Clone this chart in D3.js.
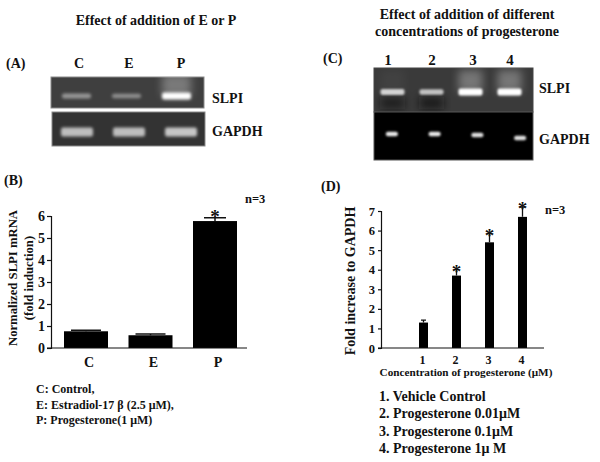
<!DOCTYPE html>
<html>
<head>
<meta charset="utf-8">
<script src="https://cdn.jsdelivr.net/npm/d3@7"></script>
<style>
  html, body { margin: 0; padding: 0; background: #fff; }
  svg { display: block; }
  text { font-family: "Liberation Serif", serif; font-weight: bold; fill: #111; }
  .axis path, .axis line { stroke: #111; stroke-width: 1.2; }
  .axis text { font-family: "Liberation Serif", serif; font-weight: bold; fill: #111; }
</style>
</head>
<body>
<div id="main"></div>
<script>
const barCategories = ["C", "E", "P"];
const barValues = [0.76, 0.58, 5.77];
const barErrors = [0.05, 0.06, 0.15];
const barStars = [false, false, true];

const doseCategories = [1, 2, 3, 4];
const doseValues = [1.3, 3.7, 5.4, 6.7];
const doseErrors = [0.12, 0.3, 0.45, 0.5];
const doseStars = [false, true, true, true];

const gelALanes = ["C", "E", "P"];
const gelASlpi = [0.48, 0.44, 1];
const gelAGapdh = [0.68, 0.68, 0.72];

const gelCLanes = ["1", "2", "3", "4"];
const gelCSlpi = [0.78, 0.7, 1, 1];
const gelCSmudge = [0.6, 0.7, 0, 0];
const gelCGapdh = [0.9, 0.9, 0.85, 0.85];
const gelCGapdhDrift = [0, 0, 1, 4];

const legendB = ["C: Control,", "E: Estradiol-17 β (2.5 μM),", "P: Progesterone(1 μM)"];
const legendD = ["1. Vehicle Control", "2. Progesterone 0.01μM", "3. Progesterone 0.1μM", "4. Progesterone 1μ M"];

const svg = d3.select("#main").append("svg").attr("width", 600).attr("height", 462);

const defs = svg.append("defs");
[["blurBand", 1.5], ["blurSoft", 0.8], ["blurGlow", 4]].forEach(([id, sd]) => {
  defs.append("filter").attr("id", id)
    .attr("x", "-30%").attr("y", "-100%").attr("width", "160%").attr("height", "300%")
    .append("feGaussianBlur").attr("stdDeviation", sd);
});

function label(x, y, txt, size, anchor = "start") {
  return svg.append("text").attr("x", x).attr("y", y)
    .attr("font-size", size).attr("text-anchor", anchor).text(txt);
}

// one gel strip, bands placed by the lane scale
function gel(x, y, w, h, lanes, values, opt) {
  const g = svg.append("g");
  const clipId = "clip" + x + "_" + y;
  defs.append("clipPath").attr("id", clipId).append("rect")
    .attr("x", x).attr("y", y).attr("width", w).attr("height", h);
  g.append("rect").attr("x", x).attr("y", y).attr("width", w).attr("height", h)
    .attr("fill", opt.bg).attr("stroke", opt.edge || "#8a8a8a").attr("stroke-width", 1);
  const inner = g.append("g").attr("clip-path", `url(#${clipId})`);
  const laneX = d3.scaleBand().domain(lanes).range(opt.range);
  const light = d3.scaleLinear().domain([0, 1]).range(["#333", "#fff"]);

  lanes.forEach((lane, i) => {
    const cx = laneX(lane) + laneX.bandwidth() / 2;
    const by = y + opt.bandY + (opt.drift ? opt.drift[i] : 0);
    const bandH = opt.bandH * (opt.thicken ? 0.4 + 0.6 * values[i] : 1);
    if (opt.glow) {
      inner.append("rect")
        .attr("x", cx - opt.bandW / 2).attr("y", by - 22)
        .attr("width", opt.bandW).attr("height", 22)
        .attr("fill", "#fff").attr("opacity", Math.max(0, values[i] - 0.75) * 1.2)
        .attr("filter", "url(#blurGlow)");
    }
    if (opt.smudge && opt.smudge[i]) {
      inner.append("rect")
        .attr("x", cx - opt.bandW / 2).attr("y", by + 5)
        .attr("width", opt.bandW).attr("height", 12)
        .attr("fill", "#111").attr("opacity", opt.smudge[i])
        .attr("filter", "url(#blurGlow)");
    }
    inner.append("rect")
      .attr("x", cx - opt.bandW / 2).attr("y", by - bandH / 2)
      .attr("width", opt.bandW).attr("height", bandH)
      .attr("rx", 2)
      .attr("fill", light(values[i]))
      .attr("filter", `url(#${opt.blur || "blurBand"})`);
  });
}

// titles and panel letters
label(156, 25, "Effect of addition of E or P", 14, "middle");
label(6, 68, "(A)", 14);
label(4, 185, "(B)", 14);
label(467, 19, "Effect of addition of different", 14, "middle");
label(467, 36, "concentrations of progesterone", 14, "middle");
label(323, 63, "(C)", 14);
label(321, 191, "(D)", 14);

// panel A gels
gelALanes.forEach((d, i) => label([79, 129, 181][i], 68, d, 14, "middle"));
gel(51, 77, 153, 31, gelALanes, gelASlpi, { bg: "#3f3f3f", range: [51.5, 201.5], bandY: 19, bandW: 29, bandH: 7, thicken: true, glow: true });
gel(52, 112, 153, 34, gelALanes, gelAGapdh, { bg: "#333", range: [51, 207], bandY: 20, bandW: 32, bandH: 9 });
label(212, 103, "SLPI", 14);
label(212, 136, "GAPDH", 14);

// panel C gels
gelCLanes.forEach((d, i) => label([388, 432, 473, 510][i], 65, d, 15, "middle"));
gel(374, 68, 159, 44, gelCLanes, gelCSlpi, { bg: "#3a3a3a", edge: "#444", range: [373, 529], bandY: 24, bandW: 24, bandH: 7, thicken: true, glow: true, smudge: gelCSmudge, blur: "blurSoft" });
gel(374, 112, 159, 48, gelCLanes, gelCGapdh, { bg: "#000", edge: "#555", range: [370.5, 541.5], bandY: 22, bandW: 12, bandH: 4.5, drift: gelCGapdhDrift, blur: "blurSoft" });
label(539, 93, "SLPI", 14);
label(539, 144, "GAPDH", 14);

function stars(g, x, y, cats, vals, errs, flags, size, dy) {
  cats.forEach((c, i) => {
    if (!flags[i]) return;
    g.append("text").attr("x", x(c)).attr("y", y(vals[i] + errs[i]) + dy)
      .attr("text-anchor", "middle").attr("font-size", size).text("*");
  });
}

// panel B bars
const xB = d3.scalePoint().domain(barCategories).range([86, 215]);
const yB = d3.scaleLinear().domain([0, 6]).range([348, 216]);
const gB = svg.append("g");
const barWB = 44;
gB.selectAll(".err").data(barCategories).enter().append("path")
  .attr("d", (d, i) => {
    const top = yB(barValues[i] + barErrors[i]);
    const capW = i === 2 ? 11 : 15;
    return `M${xB(d)},${yB(barValues[i])}V${top}M${xB(d) - capW},${top}H${xB(d) + capW}`;
  })
  .attr("stroke", "#111").attr("stroke-width", 1.5).attr("fill", "none");
gB.selectAll(".bar").data(barCategories).enter().append("rect")
  .attr("x", d => xB(d) - barWB / 2)
  .attr("width", barWB)
  .attr("y", (d, i) => yB(barValues[i]))
  .attr("height", (d, i) => yB(0) - yB(barValues[i]))
  .attr("fill", "#000");
stars(gB, xB, yB, barCategories, barValues, barErrors, barStars, 19, 5);

gB.append("g").attr("class", "axis").attr("transform", "translate(51,0)")
  .call(d3.axisLeft(yB).ticks(6).tickSize(4).tickFormat(d3.format("d")))
  .call(s => s.selectAll("text").attr("font-size", 14).attr("dx", 1));
gB.append("line").attr("x1", 47).attr("x2", 247).attr("y1", 348).attr("y2", 348)
  .attr("stroke", "#111").attr("stroke-width", 1.2);
barCategories.forEach(c => gB.append("text").attr("x", xB(c) + 3).attr("y", 367)
  .attr("text-anchor", "middle").attr("font-size", 14).text(c));

label(0, 0, "Normalized SLPI mRNA", 12.7, "middle").attr("transform", "translate(17,278) rotate(-90)");
label(0, 0, "(fold induction)", 12.7, "middle").attr("transform", "translate(33,278) rotate(-90)");
label(245, 203, "n=3", 12.5);
legendB.forEach((t, i) => label(36, 393 + i * 15.5, t, 12));

// panel D bars
const xD = d3.scaleLinear().domain([1, 4]).range([423.5, 522.5]);
const yD = d3.scaleLinear().domain([0, 7]).range([348, 211]);
const gD = svg.append("g");
const barWD = 9;
gD.selectAll(".err").data(doseCategories).enter().append("path")
  .attr("d", (d, i) => {
    const top = yD(doseValues[i] + doseErrors[i]);
    return `M${xD(d)},${yD(doseValues[i])}V${top}M${xD(d) - 2.5},${top}H${xD(d) + 2.5}`;
  })
  .attr("stroke", "#111").attr("stroke-width", 1.3).attr("fill", "none");
gD.selectAll(".bar").data(doseCategories).enter().append("rect")
  .attr("x", d => xD(d) - barWD / 2)
  .attr("width", barWD)
  .attr("y", (d, i) => yD(doseValues[i]))
  .attr("height", (d, i) => yD(0) - yD(doseValues[i]))
  .attr("fill", "#000");
stars(gD, xD, yD, doseCategories, doseValues, doseErrors, doseStars, 19, 8);

gD.append("g").attr("class", "axis").attr("transform", "translate(381,0)")
  .call(d3.axisLeft(yD).ticks(7).tickSize(3).tickFormat(d3.format("d")))
  .call(s => s.selectAll("text").attr("font-size", 12.5));
gD.append("line").attr("x1", 378).attr("x2", 544).attr("y1", 348).attr("y2", 348)
  .attr("stroke", "#111").attr("stroke-width", 1.2);
doseCategories.forEach(c => gD.append("text").attr("x", xD(c) - 1).attr("y", 364)
  .attr("text-anchor", "middle").attr("font-size", 12).text(c));

label(0, 0, "Fold increase to GAPDH", 14, "middle").attr("transform", "translate(355,281) rotate(-90)");
label(466, 376, "Concentration of progesterone (μM)", 11.2, "middle");
label(545, 214, "n=3", 12.5);
legendD.forEach((t, i) => label(379, 401 + i * 17.3, t, 14));
</script>
</body>
</html>
